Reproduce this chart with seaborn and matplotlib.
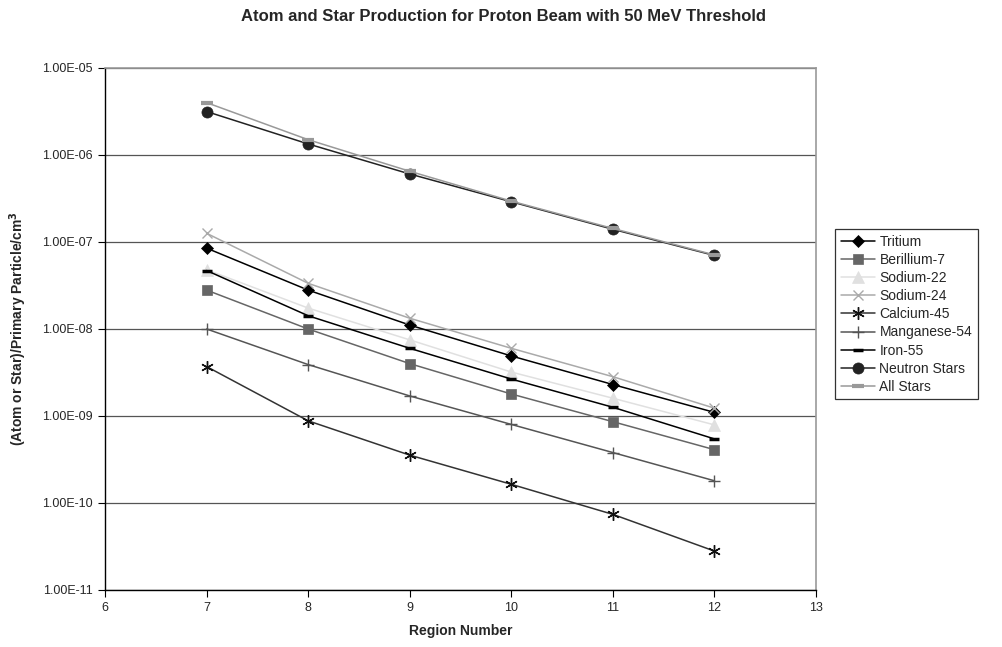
import matplotlib
matplotlib.use("Agg")
import matplotlib.pyplot as plt
import seaborn as sns
import pandas as pd
from matplotlib.ticker import FuncFormatter, FixedLocator, NullLocator

regions = [7, 8, 9, 10, 11, 12]
tritium = [8.5e-8, 2.8e-8, 1.11e-8, 4.9e-9, 2.3e-9, 1.1e-9]
berillium7 = [2.8e-8, 1.0e-8, 4.0e-9, 1.79e-9, 8.6e-10, 4.1e-10]
sodium22 = [4.8e-8, 1.74e-8, 7.5e-9, 3.2e-9, 1.6e-9, 7.9e-10]
sodium24 = [1.26e-7, 3.35e-8, 1.33e-8, 6.0e-9, 2.83e-9, 1.23e-9]
calcium45 = [3.7e-9, 8.8e-10, 3.55e-10, 1.64e-10, 7.4e-11, 2.8e-11]
manganese54 = [1.0e-8, 3.9e-9, 1.7e-9, 8.0e-10, 3.8e-10, 1.8e-10]
iron55 = [4.7e-8, 1.42e-8, 6.0e-9, 2.66e-9, 1.26e-9, 5.45e-10]
neutron_stars = [3.16e-6, 1.34e-6, 6.05e-7, 2.9e-7, 1.4e-7, 7.0e-8]
all_stars = [4.0e-6, 1.5e-6, 6.5e-7, 2.95e-7, 1.43e-7, 7.1e-8]

series_names = ["Tritium", "Berillium-7", "Sodium-22", "Sodium-24", "Calcium-45",
                "Manganese-54", "Iron-55", "Neutron Stars", "All Stars"]
series_values = [tritium, berillium7, sodium22, sodium24, calcium45,
                 manganese54, iron55, neutron_stars, all_stars]

styles = {
    "Tritium": dict(color="#000000", marker="D", ms=6.5, mfc="#000000", mec="#000000", mew=0.5),
    "Berillium-7": dict(color="#666666", marker="s", ms=7.5, mfc="#666666", mec="#666666", mew=0.5),
    "Sodium-22": dict(color="#e0e0e0", marker="^", ms=8, mfc="#e0e0e0", mec="#e0e0e0", mew=0.5),
    "Sodium-24": dict(color="#aaaaaa", marker="x", ms=7.5, mfc="#aaaaaa", mec="#aaaaaa", mew=1.0),
    "Calcium-45": dict(color="#333333", marker=(6, 2, 0), ms=9, mfc="#111111", mec="#111111", mew=1.0),
    "Manganese-54": dict(color="#555555", marker="+", ms=9, mfc="#555555", mec="#555555", mew=1.0),
    "Iron-55": dict(color="#000000", marker="_", ms=7, mfc="#000000", mec="#000000", mew=2.5),
    "Neutron Stars": dict(color="#222222", marker="o", ms=8, mfc="#222222", mec="#222222", mew=0.5),
    "All Stars": dict(color="#999999", marker="_", ms=9, mfc="#999999", mec="#999999", mew=3.0),
}

sns.set_theme(style="white")
plt.rcParams["font.family"] = ["Liberation Sans", "DejaVu Sans"]

fig = plt.figure(figsize=(10.03, 6.47), dpi=100)
ax = fig.add_axes([0.1047, 0.0881, 0.8136 - 0.1047, 0.8949 - 0.0881])

for name, vals in zip(series_names, series_values):
    st = styles[name]
    df = pd.DataFrame({"Region": regions, "Value": vals})
    sns.lineplot(data=df, x="Region", y="Value", ax=ax, color=st["color"],
                 linewidth=1.1, marker=st["marker"], markersize=st["ms"],
                 markerfacecolor=st["mfc"], markeredgecolor=st["mec"],
                 markeredgewidth=st["mew"], label=name)

ax.set_yscale("log")
ax.set_ylim(1e-11, 1e-5)
ax.set_xlim(6, 13)
ax.xaxis.set_major_locator(FixedLocator(list(range(6, 14))))
ax.yaxis.set_major_locator(FixedLocator([10.0 ** e for e in range(-11, -4)]))
ax.yaxis.set_minor_locator(NullLocator())


def fmt(v, pos):
    s = "%.2E" % v
    mant, exp = s.split("E")
    sign = exp[0]
    num = int(exp[1:])
    return "%sE%s%02d" % (mant, sign, num)


ax.yaxis.set_major_formatter(FuncFormatter(fmt))
ax.grid(axis="y", color="#555555", linewidth=0.9)
ax.grid(axis="x", visible=False)
ax.set_axisbelow(True)

for side in ["top", "right"]:
    ax.spines[side].set_color("#999999")
    ax.spines[side].set_linewidth(1.2)
for side in ["left", "bottom"]:
    ax.spines[side].set_color("#000000")
    ax.spines[side].set_linewidth(1.0)

ax.tick_params(axis="both", which="major", direction="out", length=5, width=0.8,
               color="#000000", labelsize=9, pad=4, left=True, bottom=True)

ax.set_xlabel("Region Number", fontsize=10, fontweight="bold", labelpad=7)
ax.set_ylabel(r"(Atom or Star)/Primary Particle/cm$^\mathbf{3}$", fontsize=10,
              fontweight="bold", labelpad=9)
fig.suptitle("Atom and Star Production for Proton Beam with 50 MeV Threshold",
             x=0.502, y=0.986, fontsize=12, fontweight="bold")

leg = ax.legend(loc="upper left", bbox_to_anchor=(0.8325, 0.646),
                bbox_transform=fig.transFigure, frameon=True, fancybox=False,
                edgecolor="#000000", fontsize=10, handlelength=2.5,
                labelspacing=0.3, borderpad=0.4, handletextpad=0.3,
                borderaxespad=0)
leg.get_frame().set_linewidth(0.9)

fig.savefig("out.png", dpi=100)
